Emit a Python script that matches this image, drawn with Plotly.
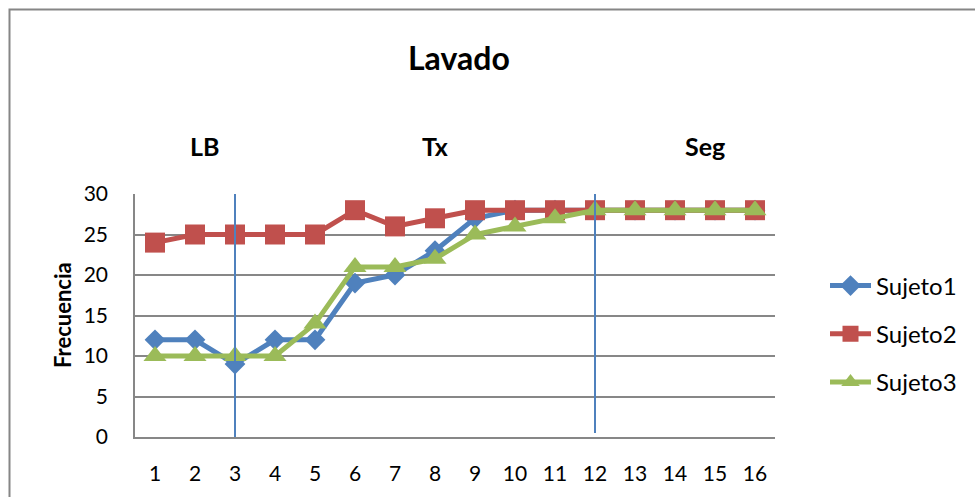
import plotly.graph_objects as go

# Sessions and frequency per subject
sesiones = list(range(1, 17))
sujeto1 = [12, 12, 9, 12, 12, 19, 20, 23, 27, 28, 28, 28, 28, 28, 28, 28]
sujeto2 = [24, 25, 25, 25, 25, 28, 26, 27, 28, 28, 28, 28, 28, 28, 28, 28]
sujeto3 = [10, 10, 10, 10, 14, 21, 21, 22, 25, 26, 27, 28, 28, 28, 28, 28]
y_ticks = [0, 5, 10, 15, 20, 25, 30]
fases = ["LB", "Tx", "Seg"]
fase_x = [2.225, 8.0, 14.75]
cambios_fase = [3, 12]

FONT = "Lato, 'Open Sans', sans-serif"
GRID = "#878787"

# plot area in pixels: x 135..775, y 194..437
PL, PW, PB, PH = 135, 640, 437, 243


def px_x(v):
    return (v - PL) / PW


def px_y(v):
    return (PB - v) / PH


fig = go.Figure()
series = [
    ("Sujeto1", sujeto1, "#4F81BD", "diamond", 16),
    ("Sujeto2", sujeto2, "#C0504D", "square", 20),
    ("Sujeto3", sujeto3, "#9BBB59", "triangle-up", 20),
]
for name, vals, color, sym, size in series:
    fig.add_trace(go.Scatter(
        x=sesiones, y=vals, name=name, mode="lines+markers",
        line=dict(color=color, width=5),
        marker=dict(symbol=sym, size=size, color=color, line=dict(width=0)),
        legendgroup=name,
    ))

# phase-change lines
for xc in cambios_fase:
    fig.add_shape(type="line", xref="x", yref="y", x0=xc, x1=xc,
                  y0=-0.1 if xc == 3 else 0.5, y1=30.5 if xc == 3 else 30.7,
                  line=dict(color="#4F81BD", width=2), layer="above")

# outer chart frame
fig.add_shape(type="rect", xref="paper", yref="paper",
              x0=px_x(9.5), x1=px_x(1000), y0=px_y(520), y1=px_y(9.5),
              line=dict(color="#868686", width=2), fillcolor="rgba(0,0,0,0)",
              layer="below")

annotations = [
    dict(text="<b>Lavado</b>", x=px_x(459), y=px_y(57),
         xref="paper", yref="paper", showarrow=False,
         xanchor="center", yanchor="middle",
         font=dict(size=32, color="black", family=FONT)),
    dict(text="<b>Frecuencia</b>", x=px_x(62), y=px_y(315),
         xref="paper", yref="paper", showarrow=False, textangle=-90,
         xanchor="center", yanchor="middle",
         font=dict(size=22, color="black", family=FONT)),
]
for label, fx in zip(fases, fase_x):
    annotations.append(dict(text=f"<b>{label}</b>", x=fx, y=px_y(146),
                            xref="x", yref="paper", showarrow=False,
                            xanchor="center", yanchor="middle",
                            font=dict(size=25, color="black", family=FONT)))

fig.update_layout(
    width=975, height=497,
    margin=dict(l=PL, r=975 - PL - PW, t=PB - PH, b=497 - PB),
    paper_bgcolor="white", plot_bgcolor="white",
    font=dict(family=FONT, size=21, color="black"),
    showlegend=True,
    legend=dict(x=px_x(825), y=px_y(334), xanchor="left",
                yanchor="middle", tracegroupgap=14, itemwidth=41,
                font=dict(size=24, family=FONT, color="black"),
                bgcolor="rgba(0,0,0,0)"),
    annotations=annotations,
    xaxis=dict(range=[0.5, 16.5], tickmode="array", tickvals=sesiones,
               ticktext=[str(s) for s in sesiones], showgrid=False,
               showline=True, linecolor=GRID, linewidth=1.5, ticks="",
               ticklabelstandoff=17, zeroline=False,
               tickfont=dict(size=21, family=FONT)),
    yaxis=dict(range=[0, 30], tickmode="array", tickvals=y_ticks,
               showgrid=True, gridcolor=GRID, gridwidth=1.5,
               showline=True, linecolor=GRID, linewidth=1.5, ticks="",
               ticklabelstandoff=21, zeroline=False,
               tickfont=dict(size=21, family=FONT)),
)

fig.write_html("out.html")
